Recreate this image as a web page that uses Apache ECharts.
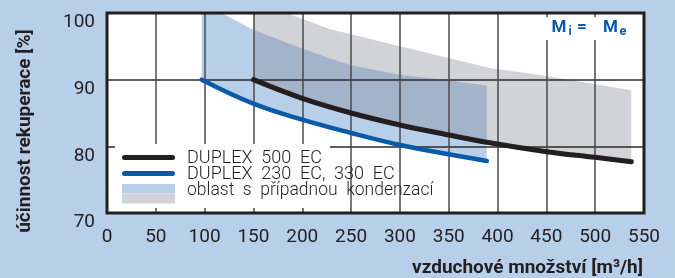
<!DOCTYPE html>
<html>
<head>
<meta charset="utf-8">
<script src="https://cdn.jsdelivr.net/npm/echarts@6/dist/echarts.min.js"></script>
<style>
  html, body { margin: 0; padding: 0; background: #b8cfe9; }
  #chart { width: 675px; height: 278px; }
</style>
</head>
<body>
<div id="chart"></div>
<script>
// DUPLEX 500 EC
var flow500 = [150, 200, 250, 300, 350, 389, 450, 500, 537];
var eff500 = [90, 87.2, 85.0, 83.2, 81.7, 80.6, 79.2, 78.35, 77.7];
// DUPLEX 230 EC, 330 EC
var flow230 = [97, 150, 200, 250, 300, 350, 389];
var eff230 = [90, 86.4, 84.0, 82.0, 80.2, 78.8, 77.8];
// horni hranice oblasti s pripadnou kondenzaci
var zone500X = [150, 184, 228, 300, 349, 393, 435, 485, 537];
var zone500Y = [100, 100, 97.6, 95.0, 93.3, 91.7, 90.9, 89.7, 88.4];
var zone230X = [97, 117.5, 150, 199, 228, 249, 300, 349, 389];
var zone230Y = [100, 100, 97.45, 94.7, 93.2, 92.2, 90.7, 89.9, 89.1];

var legendNames = ['DUPLEX  500  EC', 'DUPLEX  230  EC,  330  EC', 'oblast  s  případnou  kondenzací'];

var colBlack = '#231f20';
var colBlue = '#0b5aa7';
var colZoneBlue = '#b8cfe9';
var colZoneGray = '#d1d3d6';
var colOverlap = '#a3b3c9';

function pairs(xs, ys) {
  return xs.map(function (x, i) { return [x, ys[i]]; });
}

var line500 = pairs(flow500, eff500);
var line230 = pairs(flow230, eff230);
var poly230 = pairs(zone230X, zone230Y).concat(line230.slice().reverse());
var poly500 = pairs(zone500X, zone500Y).concat(line500.slice().reverse());
// prekryv obou oblasti: horni hrana 230, spodni hrana 500
var polyOverlap = pairs(zone230X, zone230Y).filter(function (p) { return p[0] >= 150; })
  .concat(line500.filter(function (p) { return p[0] <= 389; }).reverse());

function areaSeries(poly, color) {
  return {
    type: 'custom',
    coordinateSystem: 'cartesian2d',
    z: 1,
    silent: true,
    data: poly,
    renderItem: function (params, api) {
      if (params.dataIndex !== 0) return;
      var pts = poly.map(function (p) { return api.coord(p); });
      return { type: 'polygon', shape: { points: pts, smooth: 0 }, style: { fill: color } };
    }
  };
}

var myChart = echarts.init(document.getElementById('chart'));
var font = 'Roboto';

var option = {
  backgroundColor: '#b8cfe9',
  animation: false,
  grid: { left: 107, top: 13, width: 537, height: 200, show: true, backgroundColor: '#fff', borderWidth: 0 },
  xAxis: {
    type: 'value', min: 0, max: 550, interval: 50, z: 2,
    axisLine: { show: false }, axisTick: { show: false },
    axisLabel: { margin: 15, fontSize: 19, fontFamily: font, color: colBlack },
    splitLine: { show: true, lineStyle: { color: '#4a4a4a', width: 1.5 } }
  },
  yAxis: {
    type: 'value', min: 70, max: 100, interval: 10, z: 2,
    axisLine: { show: false }, axisTick: { show: false },
    axisLabel: { margin: 12, fontSize: 19, fontFamily: font, color: colBlack, verticalAlign: 'top' },
    splitLine: { show: true, lineStyle: { color: '#2a2a2a', width: 1.5 } }
  },
  series: [
    areaSeries(poly230, colZoneBlue),
    areaSeries(poly500, colZoneGray),
    areaSeries(polyOverlap, colOverlap),
    {
      name: legendNames[0], type: 'line', z: 3, data: line500, smooth: 0.4, showSymbol: false,
      lineStyle: { color: colBlack, width: 5, cap: 'round' }
    },
    {
      name: legendNames[1], type: 'line', z: 3, data: line230, smooth: 0.4, showSymbol: false,
      lineStyle: { color: colBlue, width: 4.5, cap: 'round' }
    }
  ],
  graphic: [
    // bila plocha legendy
    { type: 'rect', z: 10, shape: { x: 115, y: 144, width: 215, height: 64 }, style: { fill: '#fff' } },
    { type: 'line', z: 11, shape: { x1: 124.5, y1: 157.5, x2: 172.5, y2: 157.5 }, style: { stroke: colBlack, lineWidth: 5, lineCap: 'round' } },
    { type: 'line', z: 11, shape: { x1: 124.5, y1: 173.5, x2: 172.5, y2: 173.5 }, style: { stroke: colBlue, lineWidth: 5, lineCap: 'round' } },
    { type: 'rect', z: 11, shape: { x: 122, y: 184, width: 53, height: 9.5 }, style: { fill: colZoneBlue } },
    { type: 'rect', z: 11, shape: { x: 122, y: 193.5, width: 53, height: 10 }, style: { fill: colZoneGray } },
    { type: 'text', z: 11, x: 187, y: 158.5, style: { text: legendNames[0], font: '300 18px Roboto', fill: colBlack, verticalAlign: 'middle' } },
    { type: 'text', z: 11, x: 187, y: 174.5, style: { text: legendNames[1], font: '300 18px Roboto', fill: colBlack, verticalAlign: 'middle' } },
    { type: 'text', z: 11, x: 187, y: 191, style: { text: legendNames[2], font: '300 17.5px Roboto', fill: colBlack, verticalAlign: 'middle' } },
    // Mi = Me
    { type: 'rect', z: 10, shape: { x: 544, y: 17, width: 92, height: 23 }, style: { fill: '#fff' } },
    { type: 'text', z: 11, x: 551.5, y: 27.5, style: { text: 'M', font: 'bold 17px Roboto', fill: colBlue, verticalAlign: 'middle' } },
    { type: 'text', z: 11, x: 568.5, y: 31.5, style: { text: 'i', font: 'bold 12px Roboto', fill: colBlue, verticalAlign: 'middle' } },
    { type: 'text', z: 11, x: 582, y: 28, style: { text: '=', font: 'bold 17px Roboto', fill: colBlue, verticalAlign: 'middle', align: 'center' } },
    { type: 'text', z: 11, x: 603, y: 27.5, style: { text: 'M', font: 'bold 17px Roboto', fill: colBlue, verticalAlign: 'middle' } },
    { type: 'text', z: 11, x: 619.5, y: 32, style: { text: 'e', font: 'bold 13px Roboto', fill: colBlue, verticalAlign: 'middle' } },
    // ramecek grafu
    { type: 'rect', z: 12, shape: { x: 107, y: 13, width: 537, height: 200 }, style: { fill: 'none', stroke: colBlack, lineWidth: 3 } },
    // popisky os
    { type: 'text', z: 11, x: 643, y: 268.5, style: { text: 'vzduchové množství [m³/h]', font: 'bold 19px Roboto', fill: colBlack, align: 'right', verticalAlign: 'middle' } },
    { type: 'text', z: 11, x: 25.5, y: 131, rotation: Math.PI / 2, style: { text: 'účinnost rekuperace [%]', font: 'bold 19px Roboto', fill: colBlack, align: 'center', verticalAlign: 'middle' } }
  ]
};
myChart.setOption(option);
</script>
</body>
</html>
